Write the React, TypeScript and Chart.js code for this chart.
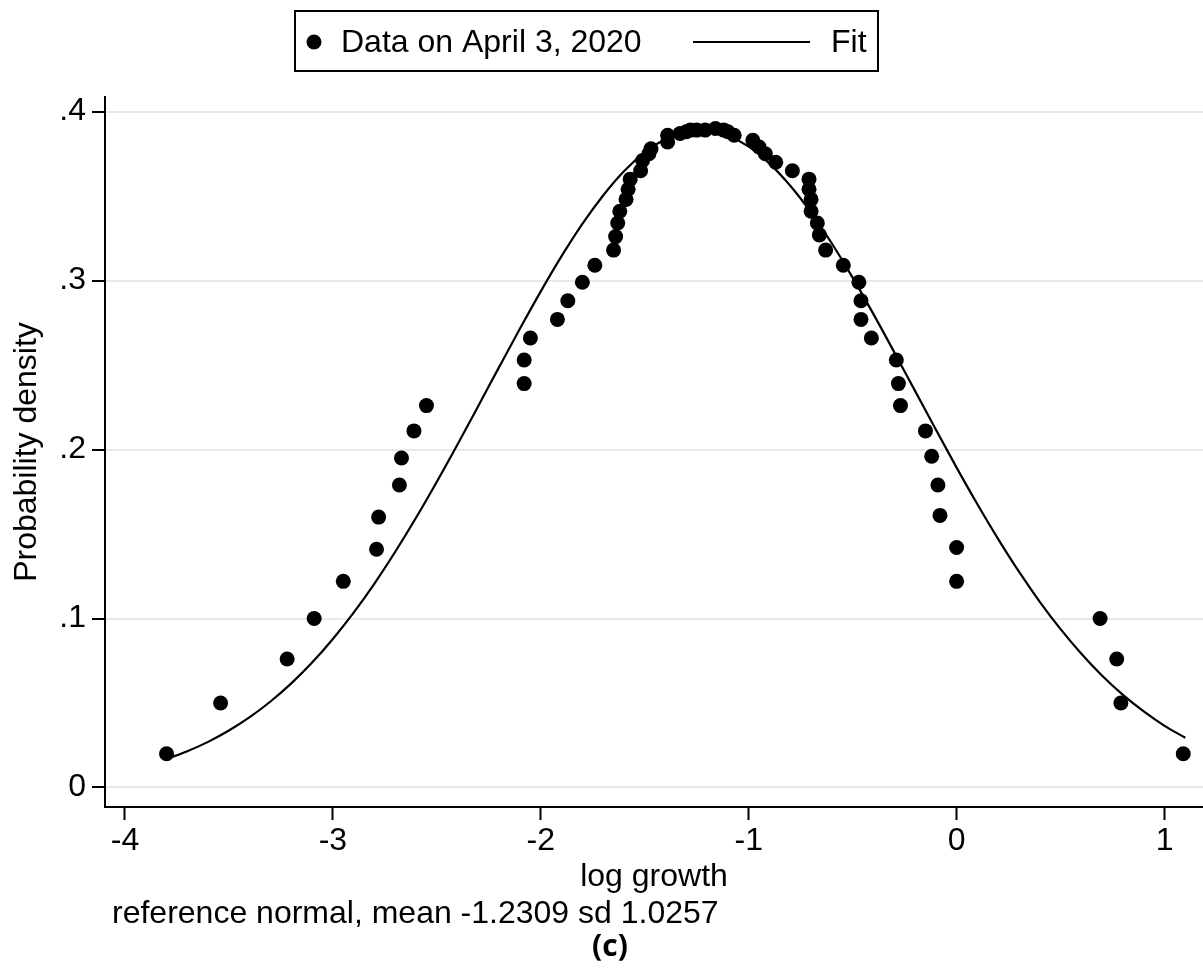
import React, { useEffect, useRef } from 'react';
import { Chart, registerables } from 'chart.js';

Chart.register(...registerables);

// ---- data ----
const dataX = [
  -3.8, -3.54, -3.22, -3.09, -2.95, -2.79, -2.78, -2.68, -2.67, -2.61, -2.55,
  -2.08, -2.08, -2.05, -1.92, -1.87, -1.8, -1.74, -1.65, -1.64, -1.63, -1.62,
  -1.59, -1.58, -1.57, -1.52, -1.51, -1.48, -1.47, -1.39, -1.39, -1.33, -1.3,
  -1.28, -1.25, -1.21, -1.16, -1.12, -1.1, -1.07, -0.98, -0.95, -0.92, -0.87,
  -0.79, -0.71, -0.71, -0.7, -0.7, -0.67, -0.66, -0.63, -0.545, -0.47, -0.46,
  -0.46, -0.41, -0.29, -0.28, -0.27, -0.15, -0.12, -0.09, -0.08, 0.0, 0.0,
  0.69, 0.77, 0.79, 1.09,
];
const dataY = [
  0.02, 0.05, 0.076, 0.1, 0.122, 0.141, 0.16, 0.179, 0.195, 0.211, 0.226,
  0.239, 0.253, 0.266, 0.277, 0.288, 0.299, 0.309, 0.318, 0.326, 0.334, 0.341,
  0.348, 0.354, 0.36, 0.365, 0.371, 0.375, 0.378, 0.382, 0.386, 0.387, 0.388,
  0.389, 0.389, 0.389, 0.39, 0.389, 0.388, 0.386, 0.383, 0.379, 0.375, 0.37,
  0.365, 0.36, 0.354, 0.348, 0.341, 0.334, 0.327, 0.318, 0.309, 0.299, 0.288,
  0.277, 0.266, 0.253, 0.239, 0.226, 0.211, 0.196, 0.179, 0.161, 0.142, 0.122,
  0.1, 0.076, 0.05, 0.02,
];

// fitted normal curve (mean -1.2309, sd 1.0257)
const fitX = [
  -3.8, -3.7, -3.6, -3.5, -3.4, -3.3, -3.2, -3.1, -3.0, -2.9, -2.8, -2.7, -2.6,
  -2.5, -2.4, -2.3, -2.2, -2.1, -2.0, -1.9, -1.8, -1.7, -1.6, -1.5, -1.4, -1.3,
  -1.2, -1.1, -1.0, -0.9, -0.8, -0.7, -0.6, -0.5, -0.4, -0.3, -0.2, -0.1, 0.0,
  0.1, 0.2, 0.3, 0.4, 0.5, 0.6, 0.7, 0.8, 0.9, 1.0, 1.1,
];
const fitY = [
  0.0169, 0.0215, 0.027, 0.0337, 0.0416, 0.0509, 0.0616, 0.0739, 0.0879,
  0.1035, 0.1207, 0.1395, 0.1596, 0.1809, 0.2031, 0.2259, 0.2489, 0.2716,
  0.2936, 0.3144, 0.3335, 0.3503, 0.3646, 0.3758, 0.3837, 0.3881, 0.3888,
  0.3858, 0.3792, 0.3692, 0.3561, 0.3402, 0.3219, 0.3017, 0.2801, 0.2576,
  0.2347, 0.2118, 0.1893, 0.1676, 0.147, 0.1277, 0.1099, 0.0937, 0.0791,
  0.0661, 0.0548, 0.045, 0.0365, 0.0294,
];

const xTicks = [-4, -3, -2, -1, 0, 1];
const xTickLabels = ['-4', '-3', '-2', '-1', '0', '1'];
const yTicks = [0, 0.1, 0.2, 0.3, 0.4];
const yTickLabels = ['0', '.1', '.2', '.3', '.4'];

const legendLabels = ['Data on April 3, 2020', 'Fit'];
const xTitle = 'log growth';
const yTitle = 'Probability density';
const noteText = 'reference normal, mean -1.2309 sd 1.0257';
const captionText = '(c)';

const FONT = '"Liberation Sans", Arial, Helvetica, sans-serif';

const extrasPlugin = {
  id: 'extras',
  afterDraw(chart: any) {
    const ctx = chart.ctx as CanvasRenderingContext2D;
    ctx.save();
    // legend box
    ctx.strokeStyle = '#000';
    ctx.lineWidth = 2;
    ctx.strokeRect(295, 11, 583, 60);
    ctx.fillStyle = '#000';
    ctx.beginPath();
    ctx.ellipse(314, 42, 7.5, 7.5, 0, 0, Math.PI * 2);
    ctx.fill();
    ctx.font = `32px ${FONT}`;
    ctx.textBaseline = 'middle';
    ctx.textAlign = 'left';
    ctx.fillText(legendLabels[0], 341, 43);
    ctx.beginPath();
    ctx.moveTo(693, 42);
    ctx.lineTo(810, 42);
    ctx.stroke();
    ctx.fillText(legendLabels[1], 831, 43);
    // note below the axis title
    ctx.fillText(noteText, 112, 914);
    // caption
    ctx.font = `bold 30px "Open Sans", "Noto Sans", sans-serif`;
    ctx.textAlign = 'center';
    ctx.fillText(captionText, 610, 947);
    ctx.restore();
  },
};

export default function App() {
  const canvasRef = useRef<HTMLCanvasElement | null>(null);

  useEffect(() => {
    const canvas = canvasRef.current;
    if (!canvas) return;
    const points = dataX.map((x, i) => ({ x, y: dataY[i] }));
    const fit = fitX.map((x, i) => ({ x, y: fitY[i] }));

    const chart = new Chart(canvas, {
      type: 'scatter',
      data: {
        datasets: [
          {
            label: legendLabels[0],
            data: points,
            pointRadius: 7.5,
            pointHoverRadius: 7.5,
            pointBackgroundColor: '#000',
            pointBorderWidth: 0,
            showLine: false,
          },
          {
            label: legendLabels[1],
            data: fit,
            showLine: true,
            borderColor: '#000',
            borderWidth: 2.2,
            pointRadius: 0,
            cubicInterpolationMode: 'monotone',
          } as any,
        ],
      },
      options: {
        responsive: false,
        animation: false,
        layout: { autoPadding: false, padding: { top: 97, left: 0, right: 0, bottom: 0 } },
        plugins: {
          legend: { display: false },
          tooltip: { enabled: false },
        },
        scales: {
          x: {
            type: 'linear',
            min: -4.096,
            max: 1.185,
            afterBuildTicks: (s: any) => {
              s.ticks = xTicks.map((v) => ({ value: v }));
            },
            afterFit: (s: any) => {
              s.height = 167;
              s.paddingLeft = 0;
              s.paddingRight = 0;
            },
            ticks: {
              autoSkip: false,
              maxRotation: 0,
              color: '#000',
              padding: 2,
              font: { family: FONT, size: 32 },
              callback: (v: any) => xTickLabels[xTicks.indexOf(Number(v))] ?? '',
            },
            grid: {
              drawOnChartArea: false,
              drawTicks: true,
              tickLength: 13,
              tickColor: '#000',
              tickWidth: 2,
            },
            border: { color: '#000', width: 2 },
            title: {
              display: true,
              text: xTitle,
              color: '#000',
              font: { family: FONT, size: 32 },
              padding: { top: 0, bottom: 78 },
            },
          },
          y: {
            type: 'linear',
            min: -0.01154,
            max: 0.4086,
            afterBuildTicks: (s: any) => {
              s.ticks = yTicks.map((v) => ({ value: v }));
            },
            afterFit: (s: any) => {
              s.width = 105;
              s.paddingTop = 0;
              s.paddingBottom = 0;
            },
            ticks: {
              autoSkip: false,
              color: '#000',
              padding: 6,
              font: { family: FONT, size: 32 },
              callback: (v: any) => {
                const idx = yTicks.findIndex((t) => Math.abs(t - Number(v)) < 1e-9);
                return idx >= 0 ? yTickLabels[idx] : '';
              },
            },
            grid: {
              color: '#e3eaea',
              lineWidth: 2,
              drawTicks: true,
              tickLength: 13,
              tickColor: '#000',
              tickWidth: 2,
            },
            border: { color: '#000', width: 2 },
            title: {
              display: true,
              text: yTitle,
              color: '#000',
              font: { family: FONT, size: 32 },
              padding: { top: 8, bottom: 0 },
            },
          },
        },
      },
      plugins: [extrasPlugin],
    });

    return () => {
      chart.destroy();
    };
  }, []);

  return (
    <div style={{ position: 'fixed', left: 0, top: 0, width: 1203, height: 974, background: '#fff' }}>
      <canvas ref={canvasRef} width={1203} height={974} style={{ display: 'block' }} />
    </div>
  );
}
